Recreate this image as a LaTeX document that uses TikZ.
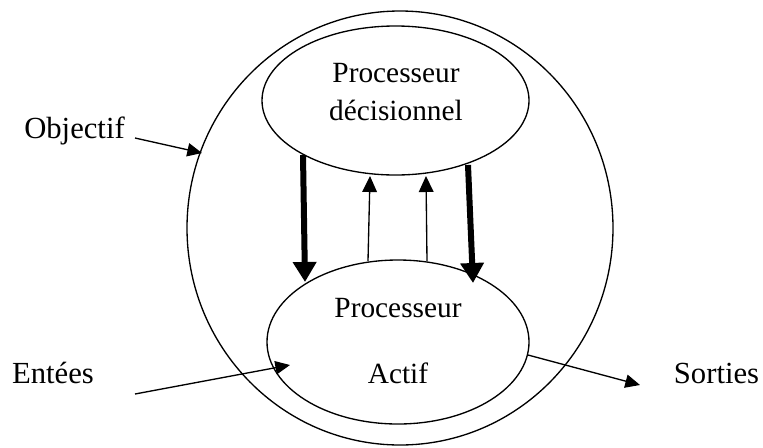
\documentclass[tikz,border=0pt]{standalone}
\usepackage{fontspec}
\setmainfont{Liberation Serif}
\usetikzlibrary{arrows.meta,shapes.geometric}
\begin{document}
\begin{tikzpicture}[x=0.75pt,y=-0.75pt,
  oval/.style={draw,ellipse,inner sep=0pt,line width=1pt},
  lbl/.style={anchor=base,inner sep=0pt,font=\fontsize{22}{26}\selectfont},
  outlbl/.style={anchor=base,inner sep=0pt,font=\fontsize{23}{27}\selectfont},
  thickarrow/.style={line width=4.5pt,-{Triangle[length=15pt,width=17pt]}},
  thinarrow/.style={line width=1pt,-{Triangle[length=12pt,width=11pt]}},
  ioarrow/.style={line width=1pt,-{Triangle[length=11pt,width=10pt]}},
]
\useasboundingbox (0,0) rectangle (763,447);

% system boundary and the two processors
\node[oval,minimum width=319.5pt,minimum height=325.5pt] (system) at (400,228) {};
\node[oval,minimum width=200.25pt,minimum height=111.75pt] (decision) at (395.5,100.5) {};
\node[oval,minimum width=196.5pt,minimum height=123pt] (actif) at (398,342) {};

% texts
\node[lbl] (d1) at (396,82) {Processeur};
\node[lbl] (d2) at (396,120) {décisionnel};
\node[lbl] (a1) at (398,317) {Processeur};
\node[lbl] (a2) at (398,383) {Actif};
\node[outlbl] (obj) at (74.5,138) {Objectif};
\node[outlbl] (ent) at (53,383) {Entées};
\node[outlbl] (sor) at (716.5,383) {Sorties};

% arrow end points
\coordinate (dL) at (303,155);
\coordinate (aL) at (305,282);
\coordinate (dR) at (468,165);
\coordinate (aR) at (473,283);
\coordinate (uL0) at (368,261);
\coordinate (uL1) at (370,176);
\coordinate (uR0) at (427,261);
\coordinate (uR1) at (426,176);
\coordinate (objS) at (135,138);
\coordinate (objT) at (202,153);
\coordinate (entS) at (135,394);
\coordinate (entT) at (290,365);
\coordinate (sorS) at (528,355);
\coordinate (sorT) at (640,385);

% commands downwards, feedback upwards
\draw[thickarrow] (dL) -- (aL);
\draw[thickarrow] (dR) -- (aR);
\draw[thinarrow] (uL0) -- (uL1);
\draw[thinarrow] (uR0) -- (uR1);

% objective, inputs and outputs
\draw[ioarrow] (objS) -- (objT);
\draw[ioarrow] (entS) -- (entT);
\draw[ioarrow] (sorS) -- (sorT);
\end{tikzpicture}
\end{document}
